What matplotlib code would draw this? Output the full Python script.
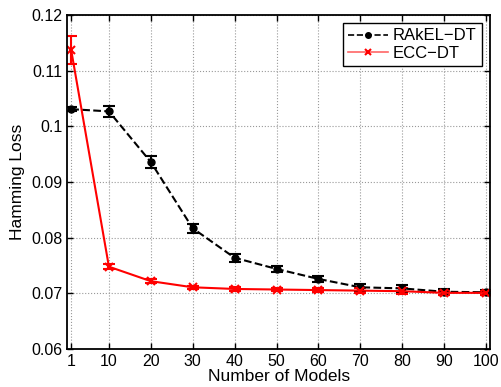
import numpy as np
import matplotlib.pyplot as plt
from matplotlib.lines import Line2D

plt.rcParams['font.family'] = ['Liberation Sans', 'DejaVu Sans']

# numero de modelos
models = [1, 10, 20, 30, 40, 50, 60, 70, 80, 90, 100]

# RAkEL-DT
rakel = [0.1031, 0.1027, 0.0936, 0.0817, 0.0764, 0.0744, 0.0726, 0.0711, 0.0709, 0.0703, 0.0702]
rakel_err = [0.0003, 0.0010, 0.0010, 0.0008, 0.0007, 0.0006, 0.0006, 0.0006, 0.0006, 0.0005, 0.0004]

# ECC-DT
ecc = [0.1137, 0.0748, 0.0722, 0.0711, 0.0708, 0.0707, 0.0706, 0.0705, 0.0704, 0.0701, 0.0701]
ecc_err = [0.0025, 0.0004, 0.0004, 0.0003, 0.0003, 0.0003, 0.0004, 0.0004, 0.0005, 0.0004, 0.0004]

fig = plt.figure(figsize=(5.02, 3.87), dpi=100)
ax = fig.add_axes([0.1335, 0.098, 0.843, 0.863])

ax.errorbar(models, rakel, yerr=rakel_err, color='black', linestyle='--', linewidth=1.5,
            marker='o', markersize=5, capsize=4, elinewidth=1.5, capthick=1.5)
ax.errorbar(models, ecc, yerr=ecc_err, color='red', linestyle='-', linewidth=1.5,
            marker='x', markersize=6, markeredgewidth=1.5, capsize=4, elinewidth=1.5, capthick=1.5)

ax.set_xlim(0, 101)
ax.set_ylim(0.06, 0.12)
ax.set_xticks(models)
ax.set_yticks([0.06, 0.07, 0.08, 0.09, 0.1, 0.11, 0.12])
ax.set_yticklabels(['0.06', '0.07', '0.08', '0.09', '0.1', '0.11', '0.12'])
ax.tick_params(direction='in', top=True, right=True, labelsize=11.5, length=4, width=1)
ax.grid(True, linestyle=':', color='#999999', linewidth=0.8)
for s in ax.spines.values():
    s.set_linewidth(1.3)

ax.set_xlabel('Number of Models', fontsize=12.5, labelpad=0)
ax.set_ylabel('Hamming Loss', fontsize=12.5)

# leyenda sin barras de error
handles = [Line2D([], [], color='black', linestyle='--', linewidth=1.2, marker='o', markersize=4),
           Line2D([], [], color='#ff6666', linestyle='-', linewidth=1.2, marker='x', markersize=5,
                  markeredgecolor='red', markeredgewidth=1.5)]
leg = ax.legend(handles, ['RAkEL\u2212DT', 'ECC\u2212DT'], loc='upper right', fontsize=12,
                fancybox=False, framealpha=1, edgecolor='black', borderaxespad=0.5,
                handlelength=2.4, handletextpad=0.3, borderpad=0.3, labelspacing=0.15)
leg.get_frame().set_linewidth(1.0)

plt.savefig('out.png', dpi=100)
